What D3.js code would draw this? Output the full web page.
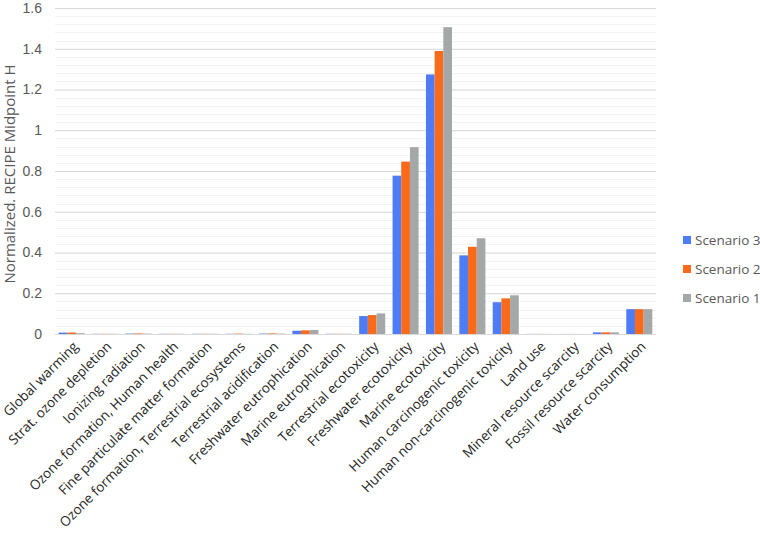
<!DOCTYPE html>
<html>
<head>
<meta charset="utf-8">
<script src="https://cdn.jsdelivr.net/npm/d3@7"></script>
<style>
  body { margin: 0; background: #fff; }
  svg { font-family: "Open Sans", sans-serif; }
</style>
</head>
<body>
<div id="chart"></div>
<script>
// data
var categories = ["Global warming", "Strat. ozone depletion", "Ionizing radiation",
  "Ozone formation, Human health", "Fine particulate matter formation",
  "Ozone formation, Terrestrial ecosystems", "Terrestrial acidification",
  "Freshwater eutrophication", "Marine eutrophication", "Terrestrial ecotoxicity",
  "Freshwater ecotoxicity", "Marine ecotoxicity", "Human carcinogenic toxicity",
  "Human non-carcinogenic toxicity", "Land use", "Mineral resource scarcity",
  "Fossil resource scarcity", "Water consumption"];
var seriesNames = ["Scenario 3", "Scenario 2", "Scenario 1"];
var scenario3 = [0.007, 0.001, 0.002, 0.001, 0.001, 0.001, 0.002, 0.016, 0.001, 0.088, 0.777, 1.274, 0.386, 0.156, 0.0005, 0.0003, 0.008, 0.122];
var scenario2 = [0.007, 0.001, 0.003, 0.001, 0.001, 0.002, 0.003, 0.018, 0.001, 0.093, 0.846, 1.389, 0.428, 0.175, 0.0005, 0.0003, 0.008, 0.122];
var scenario1 = [0.004, 0.001, 0.002, 0.001, 0.001, 0.001, 0.002, 0.020, 0.001, 0.101, 0.917, 1.506, 0.470, 0.190, 0.0004, 0.0003, 0.008, 0.122];
var yTicks = [0, 0.2, 0.4, 0.6, 0.8, 1, 1.2, 1.4, 1.6];
var colors = ["#4E7BF6", "#FA6A1B", "#A5A8A8"];

var width = 760, height = 535;
var plotLeft = 55, plotRight = 656, plotTop = 8, plotBottom = 334;

var svg = d3.select('#chart').append('svg').attr('width', width).attr('height', height);

var x = d3.scaleBand().domain(categories).range([plotLeft, plotRight]).paddingInner(0.22).paddingOuter(0.11);
var xs = d3.scaleBand().domain(seriesNames).range([0, x.bandwidth()]);
var y = d3.scaleLinear().domain([0, 1.6]).range([plotBottom, plotTop]);

// minor gridlines every 0.04
svg.append('g').selectAll('line')
  .data(d3.range(0, 1.6001, 0.04))
  .enter().append('line')
  .attr('x1', plotLeft).attr('x2', plotRight)
  .attr('y1', function(d){ return Math.round(y(d)) + 0.5; })
  .attr('y2', function(d){ return Math.round(y(d)) + 0.5; })
  .attr('stroke', '#f2f2f2');

// major gridlines
var yAxis = d3.axisLeft(y).tickValues(yTicks).tickSize(-(plotRight - plotLeft)).tickFormat(d3.format('~g'));
var ya = svg.append('g').attr('transform', 'translate(' + plotLeft + ',0)').call(yAxis);
ya.select('.domain').remove();
ya.selectAll('.tick line').attr('stroke', '#d9d9d9');
ya.selectAll('.tick text').attr('x', -13).attr('fill', '#595959').style('font-size', '14px');

// bars
var data = categories.map(function(c, i){
  return { cat: c, vals: [scenario3[i], scenario2[i], scenario1[i]] };
});
var groups = svg.append('g').selectAll('g')
  .data(data).enter().append('g')
  .attr('transform', function(d){ return 'translate(' + x(d.cat) + ',0)'; });
groups.selectAll('rect')
  .data(function(d){ return d.vals.map(function(v, j){ return { name: seriesNames[j], v: v, j: j }; }); })
  .enter().append('rect')
  .attr('x', function(d){ return xs(d.name); })
  .attr('width', xs.bandwidth())
  .attr('y', function(d){ return y(d.v); })
  .attr('height', function(d){ return plotBottom - y(d.v); })
  .attr('fill', function(d){ return colors[d.j]; });

// baseline
svg.append('line').attr('x1', plotLeft).attr('x2', plotRight)
  .attr('y1', plotBottom + 0.5).attr('y2', plotBottom + 0.5).attr('stroke', '#d9d9d9');

// x labels
svg.append('g').selectAll('text')
  .data(categories).enter().append('text')
  .attr('transform', function(d){
    var cx = x(d) + x.bandwidth() / 2 + 4;
    return 'translate(' + cx + ',' + (plotBottom + 10) + ') rotate(-45)';
  })
  .attr('text-anchor', 'end')
  .attr('dy', '0.35em')
  .attr('fill', '#262626')
  .style('font-size', '13.5px')
  .text(function(d){ return d; });

// y title
svg.append('text')
  .attr('transform', 'translate(15,' + ((plotTop + plotBottom) / 2 + 3) + ') rotate(-90)')
  .attr('text-anchor', 'middle')
  .attr('fill', '#595959')
  .style('font-size', '15px')
  .text('Normalized. RECIPE Midpoint H');

// legend
var legend = svg.append('g').selectAll('g')
  .data(seriesNames).enter().append('g')
  .attr('transform', function(d, i){ return 'translate(683,' + (240 + i * 29) + ')'; });
legend.append('rect').attr('x', 0).attr('y', -4).attr('width', 8).attr('height', 8)
  .attr('fill', function(d, i){ return colors[i]; });
legend.append('text').attr('x', 12).attr('dy', '0.35em')
  .attr('fill', '#595959').style('font-size', '13.5px')
  .text(function(d){ return d; });
</script>
</body>
</html>
